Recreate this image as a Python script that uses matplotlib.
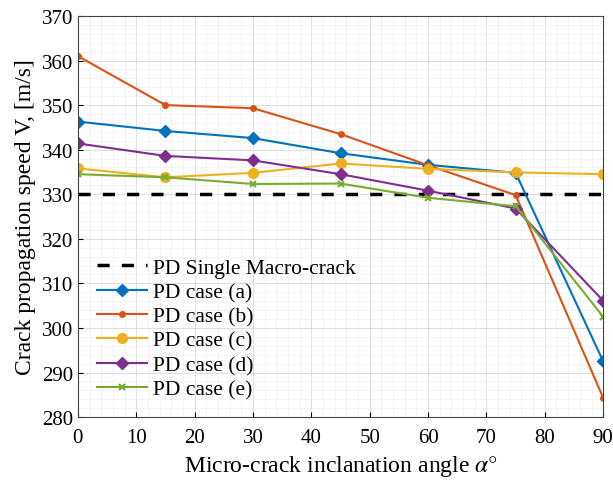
import matplotlib
matplotlib.use('Agg')
import matplotlib.pyplot as plt
from matplotlib.ticker import MultipleLocator

plt.rcParams['font.family'] = ['Liberation Serif', 'DejaVu Serif']
plt.rcParams['mathtext.fontset'] = 'stix'

angles = [0, 15, 30, 45, 60, 75, 90]
single_macro = 330
case_a = [346.3, 344.2, 342.6, 339.2, 336.6, 334.8, 292.5]
case_b = [361.0, 350.0, 349.3, 343.5, 336.5, 329.8, 284.3]
case_c = [335.8, 333.8, 334.8, 336.9, 335.7, 334.9, 334.5]
case_d = [341.4, 338.6, 337.6, 334.5, 330.8, 326.8, 306.1]
case_e = [334.5, 333.8, 332.3, 332.4, 329.2, 327.3, 302.5]

fig = plt.figure(figsize=(6.13, 4.85), dpi=100)
ax = fig.add_axes([0.127, 0.138, 0.857, 0.827])

ax.plot([0, 90], [single_macro, single_macro], 'k--', lw=2.5, dashes=(3.5, 3.5),
        label='PD Single Macro-crack')
ax.plot(angles, case_a, color='#0072BD', marker='D', ms=6, lw=1.5, label='PD case (a)')
ax.plot(angles, case_b, color='#D95319', marker='o', ms=4, lw=1.5, label='PD case (b)')
ax.plot(angles, case_c, color='#EDB120', marker='o', ms=7, lw=1.5, label='PD case (c)')
ax.plot(angles, case_d, color='#7E2F8E', marker='D', ms=6, lw=1.5, label='PD case (d)')
ax.plot(angles, case_e, color='#77AC30', marker='x', ms=4, mew=1.5, lw=1.5, label='PD case (e)')

ax.set_xlim(0, 90)
ax.set_ylim(280, 370)
ax.xaxis.set_major_locator(MultipleLocator(10))
ax.yaxis.set_major_locator(MultipleLocator(10))
ax.xaxis.set_minor_locator(MultipleLocator(2))
ax.yaxis.set_minor_locator(MultipleLocator(2))
ax.grid(which='major', color='#dddddd', lw=0.7)
ax.grid(which='minor', color='#f0f0f0', lw=0.5)
ax.set_axisbelow(True)
ax.tick_params(which='both', direction='in', labelsize=15)
ax.tick_params(axis='x', pad=8)
ax.tick_params(which='minor', length=0)
for s in ax.spines.values():
    s.set_color('#444444')
    s.set_linewidth(0.8)

ax.set_xlabel(r'Micro-crack inclanation angle $\alpha°$', fontsize=17)
ax.set_ylabel('Crack propagation speed V, [m/s]', fontsize=17)

leg = ax.legend(loc='lower left', bbox_to_anchor=(0.0, -0.005), frameon=False,
                fontsize=15.5, handlelength=2.3, labelspacing=0.2, handletextpad=0.3)

fig.savefig('out.png', dpi=100)
